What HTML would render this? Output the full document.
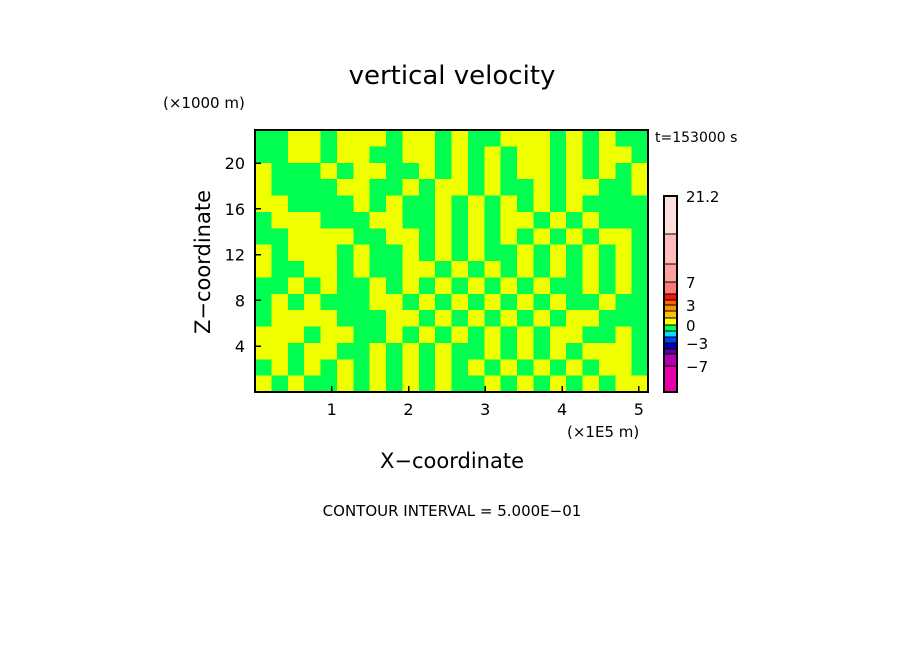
<!DOCTYPE html>
<html><head><meta charset="utf-8"><style>
body{margin:0;background:#fff;}
svg text{font-family:"DejaVu Sans","Liberation Sans",sans-serif;fill:#000;}
</style></head><body>
<svg id="chart" width="904" height="654" viewBox="0 0 904 654" shape-rendering="crispEdges">
<rect width="904" height="654" fill="#fff"/>
<text x="452" y="84" font-size="26" text-anchor="middle">vertical velocity</text>
<text x="163" y="108" font-size="15">(×1000 m)</text>
<text x="655" y="142" font-size="14">t=153000 s</text>
<g id="field"></g>
<rect x="255" y="130" width="393" height="262" fill="none" stroke="#000" stroke-width="2"/>
<g id="xticks"></g>
<g id="yticks"></g>
<text x="567" y="437" font-size="15">(×1E5 m)</text>
<text x="452" y="468" font-size="21" text-anchor="middle">X−coordinate</text>
<text transform="translate(210,262) rotate(-90)" font-size="21" text-anchor="middle">Z−coordinate</text>
<g id="cbar"></g>
<text x="452" y="516" font-size="15" text-anchor="middle">CONTOUR INTERVAL = 5.000E−01</text>
</svg>
<script>
const xTicks=[1,2,3,4,5];
const yTicks=[4,8,12,16,20];
const xMax=5.12, yMax=22.9;
const fieldRows=[
"GGYYGYYYGYYGYGGYYYGYGYGG",
"GGYYGYYGGYYGYGYGYYGYGYYG",
"YGGGYGYYGGYGYGYGYYGYGYGY",
"YGGGGYYGGYGYYGYGGYGYYGGY",
"YYGGGGYGYGGYGYGYGYGYGGGG",
"GYYYGGGYYGGYGYGYYGYGYGGG",
"GGYYYYGGYYGYGYGYGYGYGYYG",
"YGYYYGYGGYGYGYGGYGYGYGYG",
"YGGYYGYGGYYGYGYGYGYGYGYG",
"GGYGYGGYGYGYGYGYGYGGYGYG",
"GYGYGGGYYGYGYGYGYGYGGYGG",
"GYYYYGGGYYGYGYGYGYGYYGGG",
"YYYGYYGGYGYGYGYGYGYYGGYG",
"YYGYYGGYGYGYGGYGYGYGYYYG",
"GYGYGYGYGYGYGYGYGYGYGYYG",
"YGYGGYGYGYGYGGYGYGYGYGYY"];
const cbarColors=["#ffdede","#ffbcbc","#ffa0a0","#ff7878","#ff1010","#ff6000","#ff9000","#ffc000","#ffff00","#00ff50","#00e0ff","#0040ff","#0000b0","#6000a0","#b000b0","#e800a8"];
const cbarLabels=[21.2,7,3,0,-3,-7];
const cbarLabelIdx=[0,3,6,9,12,15];

const NS="http://www.w3.org/2000/svg";
const X0=255,X1=648,Y0=392,Y1=130;
const sx=v=>X0+v/xMax*(X1-X0);
const sy=v=>Y0-v/yMax*(Y0-Y1);
function mk(tag,attrs,parent,txt){const e=document.createElementNS(NS,tag);for(const k in attrs)e.setAttribute(k,attrs[k]);if(txt!==undefined)e.textContent=txt;parent.appendChild(e);return e;}
const field=document.getElementById('field');
const nr=fieldRows.length,nc=fieldRows[0].length;
const cw=(X1-X0)/nc,ch=(Y0-Y1)/nr;
fieldRows.forEach((row,r)=>{for(let c=0;c<nc;c++){
 const e=mk('rect',{x:X0+c*cw,y:Y1+r*ch,width:cw+0.5,height:ch+0.5,fill:row[c]==='Y'?'#f0ff00':'#00ff50'},field);
 
 
}});
const xg=document.getElementById('xticks');
xTicks.forEach(t=>{
 const l=mk('line',{x1:sx(t),x2:sx(t),y1:Y0,y2:Y0-6,stroke:'#000','stroke-width':1.5},xg);
 
 
 const tx=mk('text',{x:sx(t),y:415,'font-size':16,'text-anchor':'middle'},xg,t);
 
 
});
const yg=document.getElementById('yticks');
yTicks.forEach(t=>{
 const l=mk('line',{x1:X0,x2:X0+6,y1:sy(t),y2:sy(t),stroke:'#000','stroke-width':1.5},yg);
 
 
 const tx=mk('text',{x:245,y:sy(t)+6,'font-size':16,'text-anchor':'end'},yg,t);
 
 
});
const cbY=[196,234,264,282,294,300,305,311,318,325,331,337,343,349,354,366,392];
const cg=document.getElementById('cbar');
cbarColors.forEach((col,i)=>{
 const e=mk('rect',{x:664,y:cbY[i],width:13,height:cbY[i+1]-cbY[i],fill:col,stroke:'#000','stroke-width':1.2},cg);
 
 
});
mk('rect',{x:664,y:196,width:13,height:196,fill:'none',stroke:'#000','stroke-width':2},cg);
cbarLabels.forEach((v,i)=>{
 const y=cbY[cbarLabelIdx[i]];
 const t=mk('text',{x:686,y:y+6,'font-size':15},cg,String(v).replace('-','−'));
 
 
});
</script>
</body></html>
